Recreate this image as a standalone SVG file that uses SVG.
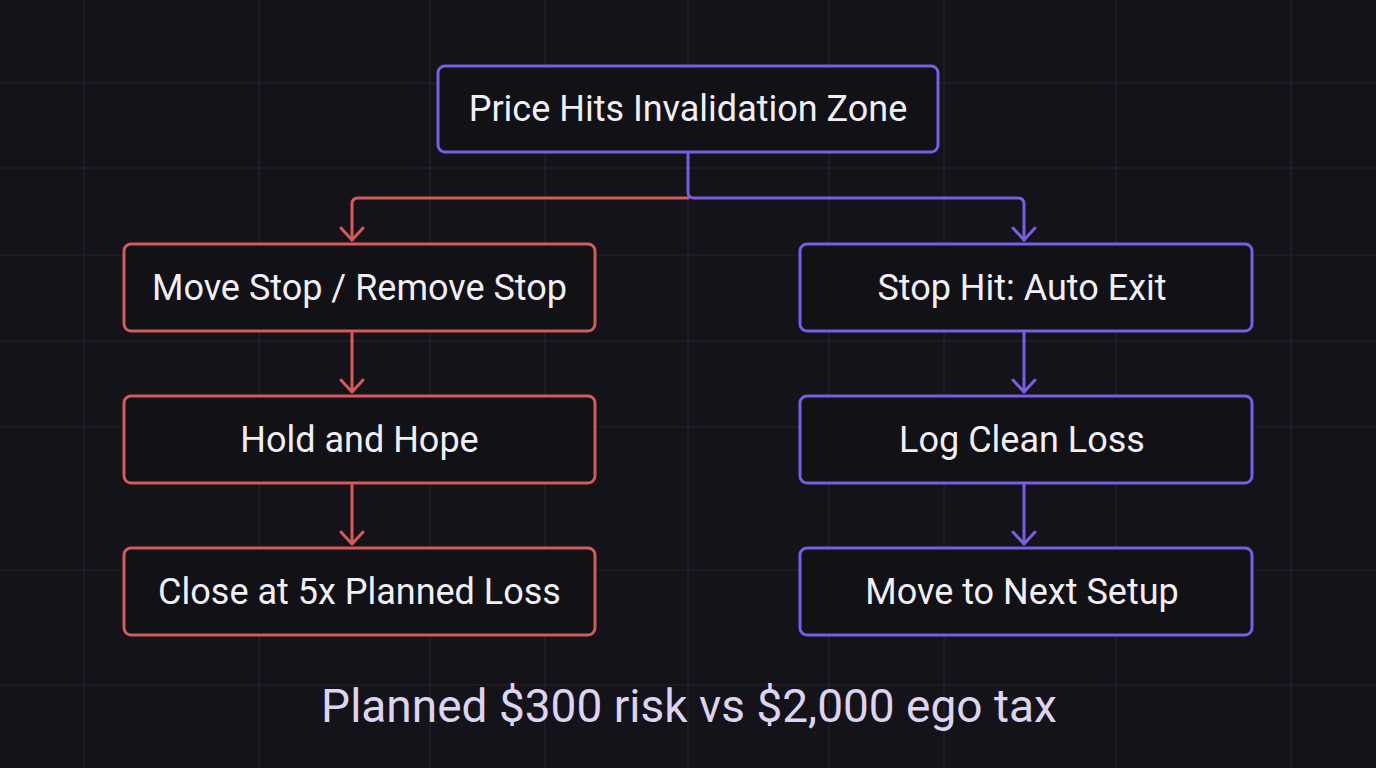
<svg xmlns="http://www.w3.org/2000/svg" width="1376" height="768" viewBox="0 0 1376 768">
<defs>
<style>
.grid{stroke:#25242e;stroke-width:1.2;fill:none}
.box{fill:#121116;stroke-width:3}
.red{stroke:#d45a5c}
.pur{stroke:#7a5de0}
.lbl{font-family:Roboto,"Liberation Sans",sans-serif;font-size:36px;fill:#f1eff6;text-anchor:middle}
.con{fill:none;stroke-width:3;stroke-linecap:round;stroke-linejoin:round}
.cap{font-family:Roboto,"Liberation Sans",sans-serif;font-size:46px;fill:#dcd4f0;text-anchor:middle}
</style>
</defs>
<rect width="1376" height="768" fill="#141319"/>
<g id="grid" class="grid">
<path d="M84,0V768M259,0V768M430,0V768M545,0V768M688,0V768M829,0V768M944,0V768M1116,0V768M1291,0V768"/>
<path d="M0,83H1376M0,168H1376M0,255H1376M0,341H1376M0,427H1376M0,570H1376M0,685H1376"/>
</g>
<g id="connectors">
<path class="con red" d="M688,198H358Q352,198 352,204V240"/>
<path class="con red" d="M341,228L352,240L363,228"/>
<path class="con pur" d="M688,152V192Q688,198 694,198H1018Q1024,198 1024,204V240"/>
<path class="con pur" d="M1013,228L1024,240L1035,228"/>
<path class="con red" d="M352,332V392M341,380L352,392L363,380"/>
<path class="con red" d="M352,484V544M341,532L352,544L363,532"/>
<path class="con pur" d="M1024,332V392M1013,380L1024,392L1035,380"/>
<path class="con pur" d="M1024,484V544M1013,532L1024,544L1035,532"/>
</g>
<g id="n-top"><rect class="box pur" x="438" y="66" width="500" height="86" rx="7"/><text class="lbl" x="688" y="121">Price Hits Invalidation Zone</text></g>
<g id="n-move"><rect class="box red" x="124" y="244" width="471" height="87" rx="7"/><text class="lbl" x="359.5" y="300">Move Stop / Remove Stop</text></g>
<g id="n-hold"><rect class="box red" x="124" y="396" width="471" height="87" rx="7"/><text class="lbl" x="359.5" y="452">Hold and Hope</text></g>
<g id="n-close"><rect class="box red" x="124" y="548" width="471" height="87" rx="7"/><text class="lbl" x="359.5" y="604">Close at 5x Planned Loss</text></g>
<g id="n-stop"><rect class="box pur" x="800" y="244" width="452" height="87" rx="7"/><text class="lbl" x="1022" y="300">Stop Hit: Auto Exit</text></g>
<g id="n-log"><rect class="box pur" x="800" y="396" width="452" height="87" rx="7"/><text class="lbl" x="1022" y="452">Log Clean Loss</text></g>
<g id="n-next"><rect class="box pur" x="800" y="548" width="452" height="87" rx="7"/><text class="lbl" x="1022" y="604">Move to Next Setup</text></g>
<text class="cap" x="689" y="722">Planned $300 risk vs $2,000 ego tax</text>
</svg>
